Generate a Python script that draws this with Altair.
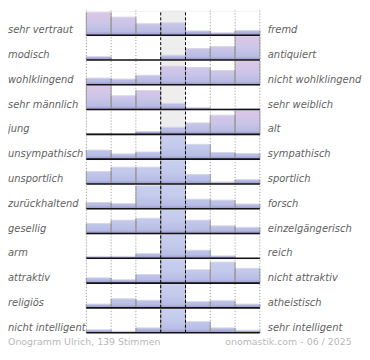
import altair as alt
import pandas as pd

LEFT = ["sehr vertraut", "modisch", "wohlklingend", "sehr männlich", "\u00a0jung",
        "unsympathisch", "unsportlich", "zurückhaltend", "gesellig", "arm",
        "attraktiv", "religiös", "nicht intelligent"]
RIGHT = ["fremd", "antiquiert", "nicht wohlklingend", "sehr weiblich", "alt",
         "sympathisch", "sportlich", "forsch", "einzelgängerisch", "reich",
         "nicht attraktiv", "atheistisch", "sehr intelligent"]
# bar heights per row (7 answer steps), full height = 25
VALUES = [
    [24, 19, 12, 13, 4.5, 2.5, 5],
    [3.5, 0, 0, 5, 12, 14, 25],
    [7, 6, 10, 19.5, 18, 15, 25],
    [25, 14.5, 20, 6.5, 2, 0.5, 1],
    [1, 0.5, 3, 7.5, 12, 20, 25],
    [9.5, 5.5, 7.5, 25, 15.5, 7, 6],
    [13, 17.5, 17.5, 25, 10, 2, 4.5],
    [6.5, 5.5, 24, 25, 10, 9, 5],
    [10.5, 14, 16, 25, 14, 8, 6.5],
    [2, 2, 5, 25, 8.5, 2.5, 0],
    [5.5, 3.5, 9, 25, 14, 22, 15.5],
    [4, 9.5, 8, 25, 6.5, 7.5, 4],
    [3, 1.5, 5, 25, 11.5, 5, 2.5],
]
PINK_ROWS = 5  # first rows drawn with the pink-to-blue gradient
FOOTER_LEFT = "Onogramm Ulrich, 139 Stimmen"
FOOTER_RIGHT = "onomastik.com - 06 / 2025"

N = len(LEFT)
K = 7
ROW = 26
FULL = 25
CENTER = 3
W = 175
H = 325

cells = pd.DataFrame([{"row": r, "col": c, "value": v}
                      for r, vals in enumerate(VALUES) for c, v in enumerate(vals)])
rows = pd.DataFrame({"row": list(range(N)), "left": LEFT, "right": RIGHT})
grid = pd.DataFrame({"pos": list(range(K + 1))})

xs = alt.Scale(domain=[0, K], nice=False, zero=False)
ys = alt.Scale(domain=[0, N * ROW], nice=False, zero=False)

cellc = alt.Chart(cells).transform_calculate(
    base=f"({N - 1} - datum.row) * {ROW}",
).transform_calculate(
    top="datum.base + datum.value",
    full=f"datum.base + {FULL}",
    col1="datum.col + 1",
)
rowc = alt.Chart(rows).transform_calculate(
    base=f"({N - 1} - datum.row) * {ROW}",
    x0="0",
    x1=f"{K}",
).transform_calculate(lab="datum.base + 2")
gridc = alt.Chart(grid).transform_calculate(
    y0="0", y1=f"{N * ROW}", pos1="datum.pos + 1")


def grad(stops):
    return alt.Gradient(gradient="linear",
                        stops=[alt.GradientStop(offset=o, color=c) for o, c in stops],
                        x1=0, x2=0, y1=0, y2=1)


pink = grad([(0, "#ddc6e6"), (0.5, "#cbc6e8"), (0.85, "#b9bce4"), (1, "#9a93c6")])
blue = grad([(0, "#c9cfee"), (0.5, "#c3c9eb"), (0.85, "#b7bde5"), (1, "#9a95c8")])

X = alt.X("col:Q", scale=xs, axis=None)
XP = alt.X("pos:Q", scale=xs, axis=None)
band = gridc.transform_filter(alt.datum.pos == CENTER).mark_rect(
    fill="#eeeeee", strokeWidth=0).encode(
    x=XP, x2="pos1:Q", y=alt.Y("y0:Q", scale=ys, axis=None), y2="y1:Q")

gp = cellc.transform_filter(alt.datum.row < PINK_ROWS).mark_rect(fill=pink, strokeWidth=0).encode(
    x=X, x2="col1:Q", y=alt.Y("base:Q", scale=ys, axis=None), y2="full:Q")
gb = cellc.transform_filter(alt.datum.row >= PINK_ROWS).mark_rect(fill=blue, strokeWidth=0).encode(
    x=X, x2="col1:Q", y=alt.Y("base:Q", scale=ys, axis=None), y2="full:Q")
mask = cellc.mark_rect(strokeWidth=0).encode(
    x=X, x2="col1:Q", y=alt.Y("top:Q", scale=ys, axis=None), y2="full:Q",
    fill=alt.condition(alt.datum.col == CENTER, alt.value("#eeeeee"), alt.value("white")))
topedge = cellc.transform_filter(alt.datum.value > 0).mark_rule(color="#d6d6e6", strokeWidth=1).encode(
    x=X, x2="col1:Q", y=alt.Y("top:Q", scale=ys, axis=None))
sideL = cellc.mark_rule(color="#999999", strokeWidth=1).encode(
    x=X, y=alt.Y("base:Q", scale=ys, axis=None), y2="top:Q")
sideR = cellc.mark_rule(color="#999999", strokeWidth=1).encode(
    x=alt.X("col1:Q", scale=xs, axis=None), y=alt.Y("base:Q", scale=ys, axis=None), y2="top:Q")

dotted = gridc.transform_filter(
    (alt.datum.pos != CENTER) & (alt.datum.pos != CENTER + 1)).mark_rule(
    color="#999999", strokeWidth=1, strokeDash=[1, 2]).encode(
    x=XP, y=alt.Y("y0:Q", scale=ys, axis=None), y2="y1:Q")
dashed = gridc.transform_filter(
    (alt.datum.pos == CENTER) | (alt.datum.pos == CENTER + 1)).mark_rule(
    color="#000000", strokeWidth=1, strokeDash=[3, 2]).encode(
    x=XP, y=alt.Y("y0:Q", scale=ys, axis=None), y2="y1:Q")

baselines = rowc.mark_rule(color="#111111", strokeWidth=1.6).encode(
    x=alt.X("x0:Q", scale=xs, axis=None), x2="x1:Q", y=alt.Y("base:Q", scale=ys, axis=None))

lab_style = dict(font="DejaVu Sans", fontStyle="italic", fontSize=10, color="#626262",
                 baseline="alphabetic", align="left")
left_t = rowc.mark_text(**lab_style).encode(
    x=alt.value(-79), y=alt.Y("lab:Q", scale=ys, axis=None), text="left:N")
right_t = rowc.mark_text(**lab_style).encode(
    x=alt.value(W + 8), y=alt.Y("lab:Q", scale=ys, axis=None), text="right:N")

foot_style = dict(font="DejaVu Sans", fontSize=9.5, color="#b8b8b8",
                  baseline="alphabetic", align="left")
foot_l = alt.Chart(pd.DataFrame({"t": [FOOTER_LEFT]})).mark_text(**foot_style).encode(
    x=alt.value(-79), y=alt.value(H + 12), text="t:N")
foot_r = alt.Chart(pd.DataFrame({"t": [FOOTER_RIGHT]})).mark_text(**foot_style).encode(
    x=alt.value(140), y=alt.value(H + 12), text="t:N")

chart = alt.layer(
    band, gp, gb, mask, topedge, sideL, sideR, dotted, dashed, baselines,
    left_t, right_t, foot_l, foot_r,
).properties(width=W, height=H, padding=0).configure_view(stroke=None)

chart.save("out.html", embed_options={"renderer": "svg", "actions": False})
